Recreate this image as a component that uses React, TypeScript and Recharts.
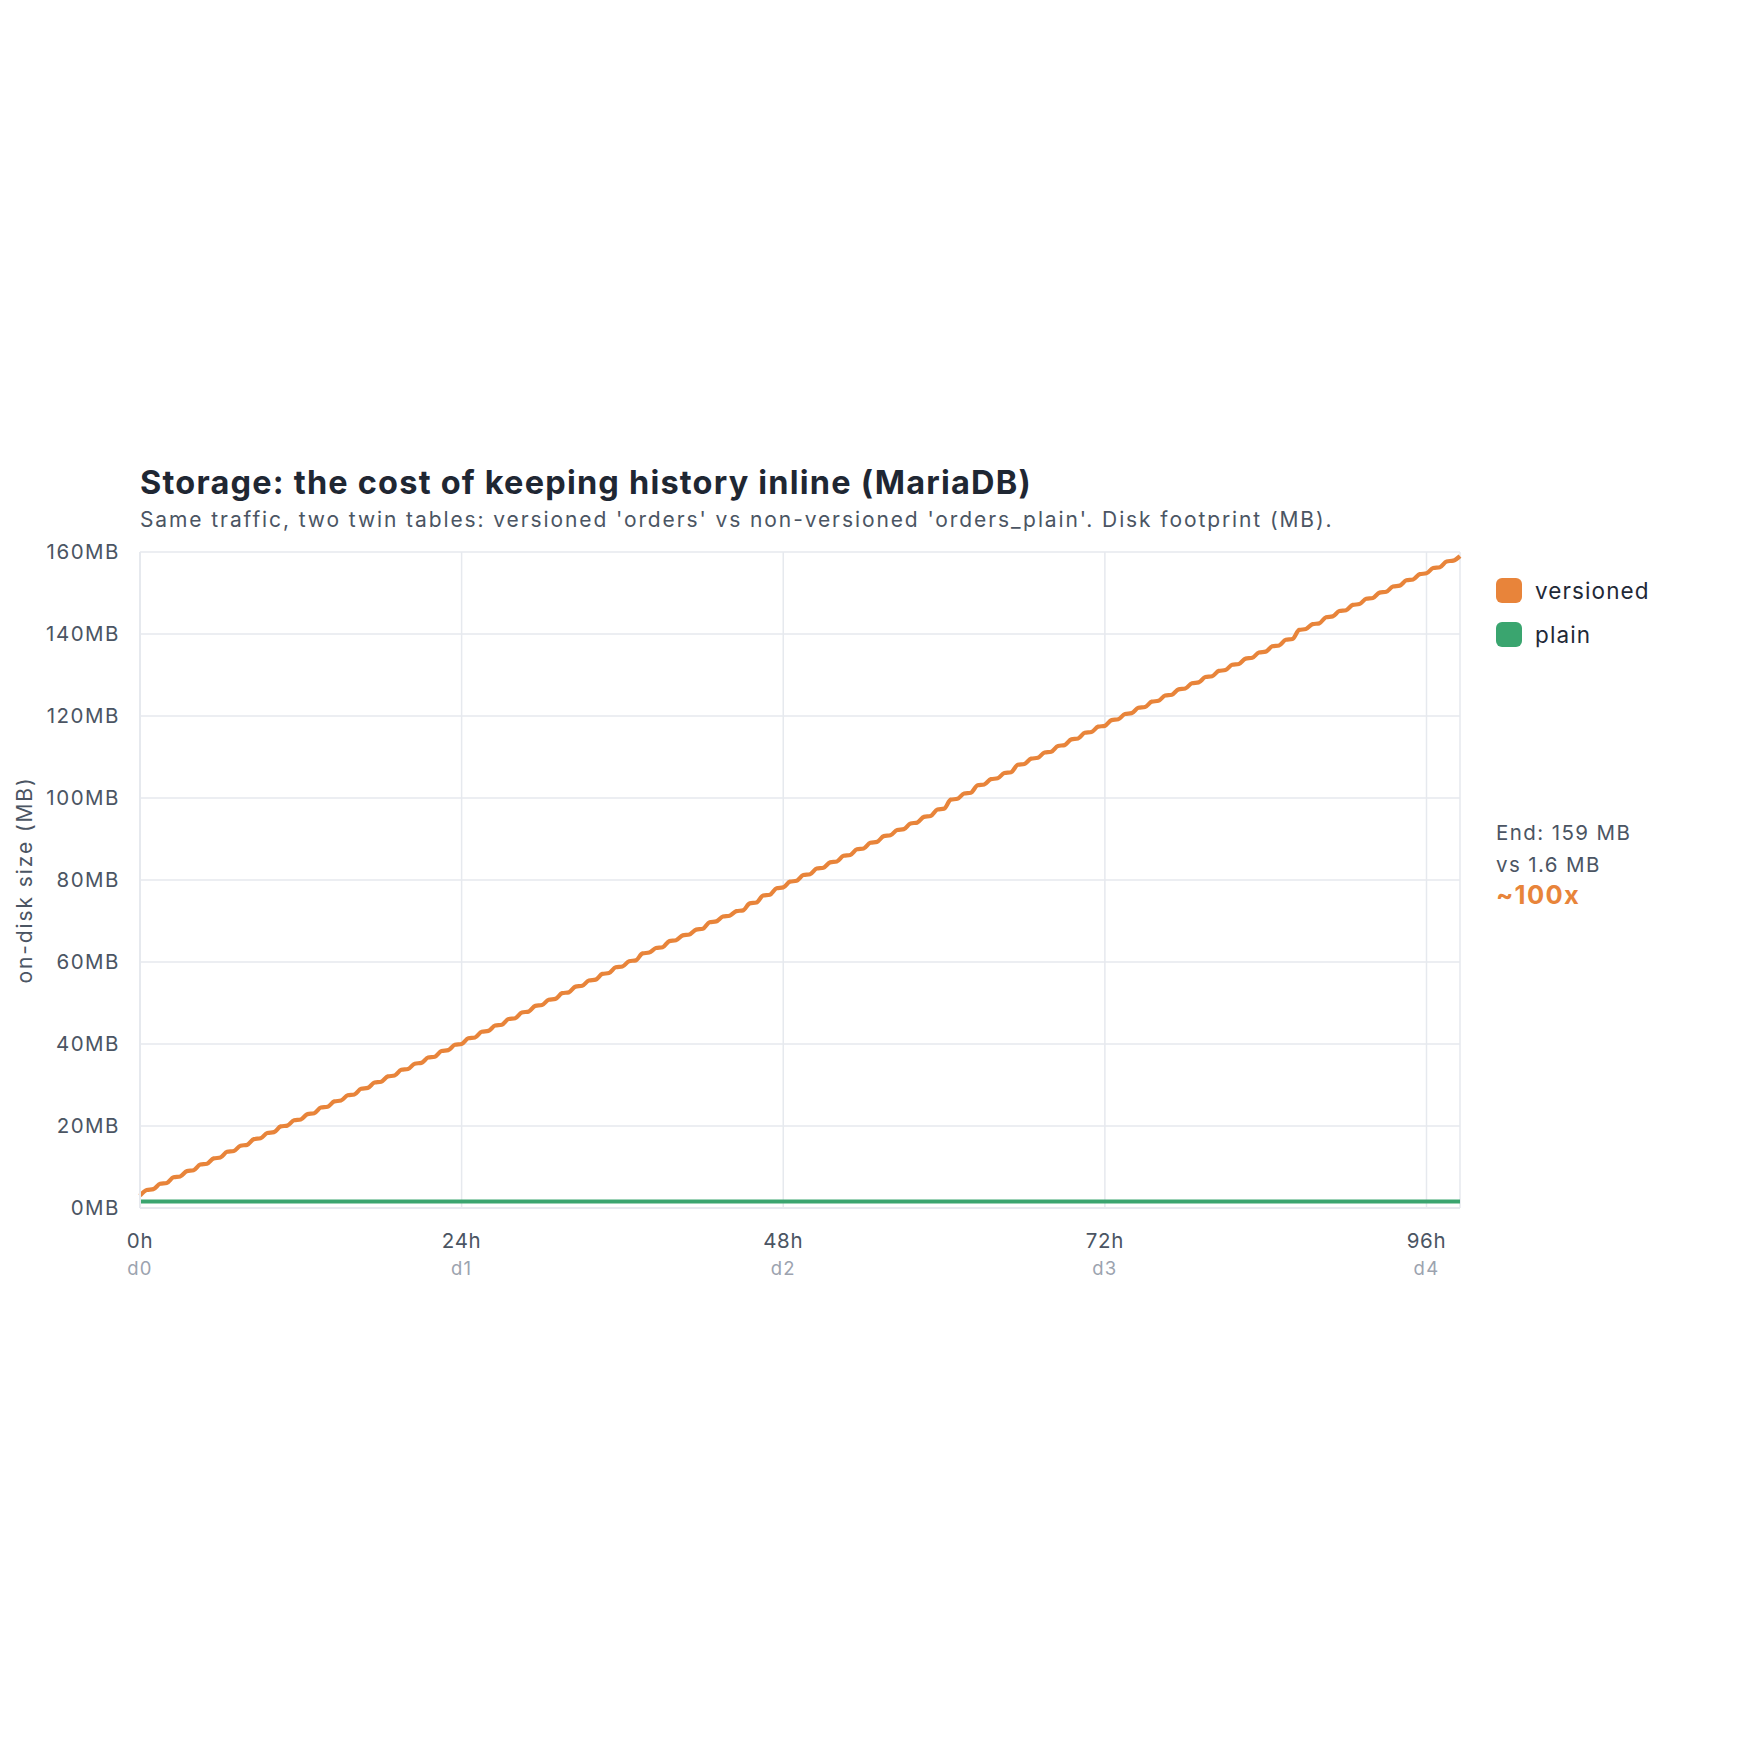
import { CartesianGrid, Line, LineChart, XAxis, YAxis } from "recharts";

// half-hourly samples (MB)
const SAMPLE_HOURS = 0.5;
const versionedMB = [
  3.0, 4.4, 4.6, 5.9, 6.1, 7.5, 7.7, 9.0, 9.2, 10.6,
  10.8, 12.1, 12.3, 13.7, 13.9, 15.2, 15.4, 16.8, 17.0, 18.3,
  18.5, 19.9, 20.1, 21.4, 21.6, 22.9, 23.1, 24.5, 24.7, 26.0,
  26.2, 27.5, 27.7, 29.1, 29.3, 30.6, 30.8, 32.1, 32.3, 33.7,
  33.9, 35.2, 35.4, 36.7, 36.9, 38.3, 38.5, 39.8, 40.0, 41.4,
  41.6, 43.0, 43.2, 44.5, 44.7, 46.1, 46.3, 47.7, 47.9, 49.3,
  49.5, 50.8, 51.0, 52.4, 52.6, 54.0, 54.2, 55.5, 55.7, 57.1,
  57.3, 58.7, 58.9, 60.2, 60.4, 62.1, 62.3, 63.4, 63.6, 65.1,
  65.3, 66.5, 66.7, 67.9, 68.1, 69.7, 69.9, 71.1, 71.3, 72.4,
  72.6, 74.3, 74.5, 76.2, 76.4, 78.0, 78.2, 79.6, 79.8, 81.2,
  81.4, 82.8, 83.0, 84.3, 84.5, 85.9, 86.1, 87.5, 87.7, 89.1,
  89.3, 90.7, 90.9, 92.2, 92.4, 93.8, 94.0, 95.4, 95.6, 97.2,
  97.4, 99.6, 99.8, 101.1, 101.3, 103.1, 103.3, 104.6, 104.8, 106.1,
  106.3, 108.1, 108.3, 109.6, 109.8, 111.1, 111.3, 112.7, 112.9, 114.3,
  114.5, 115.9, 116.1, 117.4, 117.6, 119.0, 119.2, 120.5, 120.7, 122.0,
  122.2, 123.5, 123.7, 125.0, 125.2, 126.5, 126.7, 128.0, 128.2, 129.5,
  129.7, 131.0, 131.2, 132.5, 132.7, 134.0, 134.2, 135.5, 135.7, 137.0,
  137.2, 138.6, 138.8, 141.0, 141.2, 142.4, 142.6, 144.1, 144.3, 145.6,
  145.8, 147.1, 147.3, 148.6, 148.8, 150.1, 150.3, 151.6, 151.8, 153.1,
  153.3, 154.6, 154.8, 156.1, 156.3, 157.7, 157.9, 159.0,
];

const plainHours = [0, 98.5];
const plainMB = [1.6, 1.6];

const hourTicks = [0, 24, 48, 72, 96];
const dayLabels = ["d0", "d1", "d2", "d3", "d4"];
const mbTicks = [0, 20, 40, 60, 80, 100, 120, 140, 160];

const versionedRows = versionedMB.map((mb, i) => ({
  t: i * SAMPLE_HOURS,
  versioned: mb,
}));
const plainRows = plainHours.map((t, i) => ({ t, plain: plainMB[i] }));

const ORANGE = "#e8843a";
const GREEN = "#3aa56f";
const GRID = "#e6e9ee";
const FONT = "Inter, 'Noto Sans', sans-serif";

function HourTick({ x, y, payload }: any) {
  const i = hourTicks.indexOf(payload.value);
  return (
    <g>
      <text x={x} y={y + 40} textAnchor="middle" fontSize={20.5} letterSpacing={0.7} fill="#4b5563" fontFamily={FONT}>
        {`${payload.value}h`}
      </text>
      <text x={x} y={y + 67} textAnchor="middle" fontSize={18.5} letterSpacing={1.3} fill="#9ca3af" fontFamily={FONT}>
        {dayLabels[i]}
      </text>
    </g>
  );
}

function MbTick({ x, y, payload }: any) {
  return (
    <text x={x - 20} y={y + 7} textAnchor="end" fontSize={20.5} letterSpacing={1.5} fill="#4b5563" fontFamily={FONT}>
      {`${payload.value}MB`}
    </text>
  );
}

const legendItems = [
  { name: "versioned", color: ORANGE },
  { name: "plain", color: GREEN },
];

export default function App() {
  return (
    <div style={{ position: "absolute", left: 0, top: 0, width: 1760, height: 1760, background: "#fff" }}>
      <LineChart
        width={1760}
        height={1760}
        data={versionedRows}
        margin={{ top: 552, right: 300, bottom: 472, left: 0 }}
      >
        <CartesianGrid stroke={GRID} strokeWidth={1.5} />
        <XAxis
          dataKey="t"
          type="number"
          domain={[0, 98.5]}
          ticks={hourTicks}
          height={80}
          tickSize={0}
          tickMargin={0}
          tick={<HourTick />}
          axisLine={{ stroke: GRID, strokeWidth: 2 }}
          tickLine={false}
        />
        <YAxis
          type="number"
          domain={[0, 160]}
          ticks={mbTicks}
          width={140}
          tickSize={0}
          tickMargin={0}
          tick={<MbTick />}
          axisLine={{ stroke: GRID, strokeWidth: 2 }}
          tickLine={false}
        />
        <Line
          dataKey="versioned"
          type="monotone"
          stroke={ORANGE}
          strokeWidth={4.2}
          dot={false}
          isAnimationActive={false}
        />
        <Line
          data={plainRows}
          dataKey="plain"
          type="linear"
          stroke={GREEN}
          strokeWidth={4}
          dot={false}
          isAnimationActive={false}
        />
      </LineChart>
      <svg
        width={1760}
        height={1760}
        style={{ position: "absolute", left: 0, top: 0, pointerEvents: "none" }}
      >
        <text x={140} y={494} fontSize={32.5} fontWeight={700} letterSpacing={1.2} fill="#1f2733" fontFamily={FONT}>
          Storage: the cost of keeping history inline (MariaDB)
        </text>
        <text x={140} y={527} fontSize={21} letterSpacing={1.9} fill="#4b5563" fontFamily={FONT}>
          Same traffic, two twin tables: versioned 'orders' vs non-versioned 'orders_plain'. Disk footprint (MB).
        </text>
        <text
          transform="translate(32 880) rotate(-90)"
          textAnchor="middle"
          fontSize={21}
          letterSpacing={1.9}
          fill="#4b5563"
          fontFamily={FONT}
        >
          on-disk size (MB)
        </text>
        {legendItems.map((it, i) => (
          <g key={it.name}>
            <rect x={1496} y={578 + i * 44} width={26} height={25} rx={6} fill={it.color} />
            <text x={1535} y={599 + i * 44} fontSize={22.5} letterSpacing={1.1} fill="#1f2937" fontFamily={FONT}>
              {it.name}
            </text>
          </g>
        ))}
        <text x={1496} y={840} fontSize={20.5} letterSpacing={1.4} fill="#4b5563" fontFamily={FONT}>
          End: 159 MB
        </text>
        <text x={1496} y={872} fontSize={20.5} letterSpacing={1.4} fill="#4b5563" fontFamily={FONT}>
          vs 1.6 MB
        </text>
        <text x={1496} y={904} fontSize={25.5} fontWeight={700} letterSpacing={1.3} fill={ORANGE} fontFamily={FONT}>
          ~100x
        </text>
      </svg>
    </div>
  );
}
